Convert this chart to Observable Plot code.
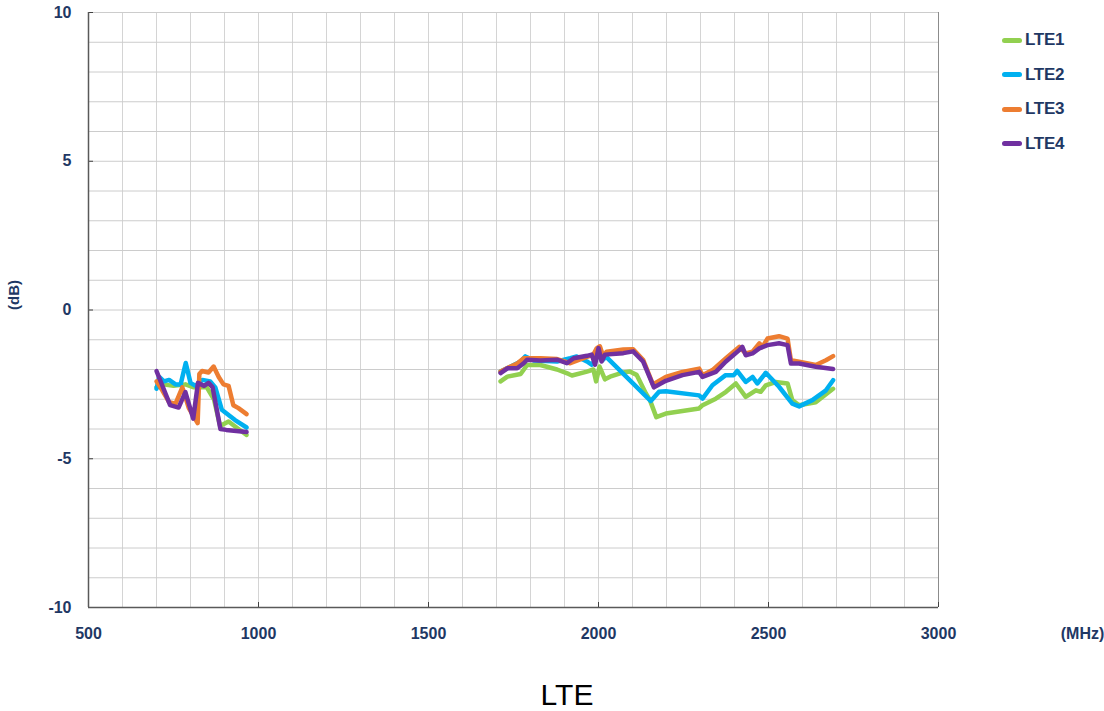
<!DOCTYPE html>
<html>
<head>
<meta charset="utf-8">
<script src="https://cdn.jsdelivr.net/npm/d3@7"></script>
<script src="https://cdn.jsdelivr.net/npm/@observablehq/plot@0.6"></script>
<style>
  html, body { margin: 0; padding: 0; background: #fff; }
  #wrap { position: relative; width: 1104px; height: 711px; font-family: "Liberation Sans", Arial, sans-serif; }
  #title { position: absolute; left: 0; width: 1134px; top: 678px; text-align: center; font-size: 30px; color: #000; }
  #legend { position: absolute; left: 1002px; top: 23px; }
  .item { display: flex; align-items: center; height: 34.5px; margin-top: 0; }
  .sw { width: 20px; height: 5px; border-radius: 3px; margin-right: 3px; }
  .lab { font-size: 17px; font-weight: bold; color: #1f3864; letter-spacing: -0.3px; }
</style>
</head>
<body>
<div id="wrap">
  <div id="chart"></div>
  <div id="legend"></div>
  <div id="title">LTE</div>
</div>
<script>
// ---- Data ----
const seriesNames = ["LTE1", "LTE2", "LTE3", "LTE4"];
const seriesColors = ["#92d050", "#00b0f0", "#ed7d31", "#7030a0"];
const xTicks = [500, 1000, 1500, 2000, 2500, 3000];
const yTicks = [-10, -5, 0, 5, 10];

// Low band (MHz, dB)
const lte1LowMHz = [700, 720, 750, 785, 810, 848, 869, 887, 912, 941, 965];
const lte1LowDb  = [-2.6, -2.5, -2.55, -2.5, -2.6, -2.6, -3.0, -3.9, -3.75, -4.0, -4.2];
const lte2LowMHz = [700, 708, 722, 737, 756, 771, 786, 800, 815, 835, 858, 873, 892, 931, 965];
const lte2LowDb  = [-2.65, -2.25, -2.4, -2.35, -2.5, -2.5, -1.78, -2.45, -2.55, -2.35, -2.4, -2.6, -3.35, -3.7, -3.95];
const lte3LowMHz = [700, 717, 737, 756, 776, 795, 821, 826, 834, 853, 868, 883, 897, 912, 926, 941, 965];
const lte3LowDb  = [-2.4, -2.7, -3.1, -3.15, -2.6, -3.3, -3.8, -2.15, -2.05, -2.1, -1.9, -2.25, -2.5, -2.55, -3.2, -3.3, -3.5];
const lte4LowMHz = [700, 740, 765, 785, 808, 822, 840, 853, 865, 888, 905, 965];
const lte4LowDb  = [-2.05, -3.2, -3.28, -2.76, -3.65, -2.45, -2.55, -2.45, -2.6, -4.0, -4.03, -4.1];

// High band (MHz, dB)
const lte1HighMHz = [1712, 1732, 1771, 1790, 1829, 1878, 1912, 1922, 1966, 1985, 1993, 2003, 2019, 2034, 2073, 2092, 2112, 2139, 2151, 2170, 2198, 2296, 2306, 2345, 2375, 2404, 2433, 2463, 2477, 2492, 2521, 2556, 2570, 2590, 2639, 2690];
const lte1HighDb  = [-2.4, -2.24, -2.15, -1.85, -1.85, -2.0, -2.15, -2.2, -2.07, -2.0, -2.4, -1.9, -2.33, -2.24, -2.1, -2.07, -2.18, -2.8, -3.02, -3.6, -3.48, -3.31, -3.2, -2.98, -2.75, -2.47, -2.92, -2.7, -2.75, -2.53, -2.42, -2.47, -3.03, -3.2, -3.1, -2.65];
const lte2HighMHz = [1712, 1742, 1771, 1785, 1810, 1878, 1917, 1936, 1966, 1980, 1995, 2005, 2012, 2022, 2154, 2178, 2198, 2296, 2306, 2335, 2374, 2398, 2408, 2433, 2453, 2467, 2492, 2531, 2570, 2590, 2629, 2669, 2690];
const lte2HighDb  = [-2.07, -1.9, -1.73, -1.56, -1.7, -1.73, -1.62, -1.56, -1.73, -1.84, -1.6, -1.45, -1.69, -1.57, -3.06, -2.75, -2.73, -2.87, -2.98, -2.53, -2.19, -2.19, -2.05, -2.42, -2.25, -2.47, -2.11, -2.58, -3.15, -3.24, -3.03, -2.7, -2.36];
const lte3HighMHz = [1712, 1732, 1761, 1780, 1829, 1878, 1917, 1956, 1985, 1995, 2004, 2014, 2024, 2073, 2102, 2131, 2160, 2198, 2247, 2296, 2306, 2335, 2374, 2414, 2433, 2453, 2473, 2482, 2497, 2531, 2556, 2566, 2590, 2639, 2669, 2690];
const lte3HighDb  = [-2.07, -1.95, -1.8, -1.62, -1.62, -1.65, -1.79, -1.62, -1.5, -1.28, -1.22, -1.56, -1.4, -1.33, -1.32, -1.67, -2.5, -2.25, -2.08, -1.97, -2.19, -2.02, -1.63, -1.24, -1.46, -1.4, -1.12, -1.24, -0.96, -0.88, -0.96, -1.69, -1.74, -1.85, -1.69, -1.55];
const lte4HighMHz = [1712, 1732, 1761, 1780, 1790, 1829, 1878, 1907, 1927, 1966, 1980, 1990, 2000, 2009, 2019, 2073, 2102, 2131, 2163, 2198, 2247, 2296, 2306, 2345, 2374, 2414, 2423, 2433, 2453, 2473, 2497, 2531, 2556, 2566, 2590, 2639, 2690];
const lte4HighDb  = [-2.12, -1.96, -1.96, -1.79, -1.67, -1.7, -1.67, -1.79, -1.62, -1.54, -1.5, -1.84, -1.28, -1.73, -1.5, -1.45, -1.39, -1.73, -2.6, -2.38, -2.19, -2.08, -2.25, -2.08, -1.74, -1.35, -1.24, -1.52, -1.46, -1.29, -1.18, -1.12, -1.18, -1.8, -1.8, -1.91, -1.98];

// ---- Build table ----
const segments = [
  ["LTE1", "low", lte1LowMHz, lte1LowDb], ["LTE1", "high", lte1HighMHz, lte1HighDb],
  ["LTE2", "low", lte2LowMHz, lte2LowDb], ["LTE2", "high", lte2HighMHz, lte2HighDb],
  ["LTE3", "low", lte3LowMHz, lte3LowDb], ["LTE3", "high", lte3HighMHz, lte3HighDb],
  ["LTE4", "low", lte4LowMHz, lte4LowDb], ["LTE4", "high", lte4HighMHz, lte4HighDb]
];
const rows = [];
for (const [s, band, xs, ys] of segments) {
  xs.forEach((x, i) => rows.push({series: s, seg: s + "-" + band, mhz: x, db: ys[i]}));
}

const textColor = "#1f3864";
const xGrid = d3.range(500, 3001, 100);
const yGrid = d3.range(-10, 10.001, 1);

const chart = Plot.plot({
  width: 1104,
  height: 660,
  marginLeft: 88,
  marginRight: 166,
  marginTop: 12,
  marginBottom: 53,
  style: {fontFamily: "'Liberation Sans', Arial, sans-serif", background: "#fff"},
  x: {domain: [500, 3000], label: null},
  y: {domain: [-10, 10], label: null},
  color: {domain: seriesNames, range: seriesColors},
  marks: [
    Plot.ruleX(xGrid, {stroke: "#d4d4d4", strokeWidth: 1}),
    Plot.ruleY(yGrid, {stroke: "#cccccc", strokeWidth: 1}),
    Plot.ruleX([3000], {stroke: "#8c8c8c", strokeWidth: 1}),
    Plot.axisX({ticks: xTicks, tickSize: -5, tickPadding: 25, stroke: "#404040", fill: textColor, fontSize: 16, fontWeight: "bold", label: null, tickFormat: d => String(d)}),
    Plot.axisY({ticks: yTicks, tickSize: -5, tickPadding: 22, stroke: "#404040", fill: textColor, fontSize: 16, fontWeight: "bold", label: null, tickFormat: d => String(d)}),
    Plot.ruleX([500], {stroke: "#595959", strokeWidth: 1.5}),
    Plot.ruleY([-10], {stroke: "#595959", strokeWidth: 1.5}),
    Plot.line(rows, {x: "mhz", y: "db", z: "seg", stroke: "series", strokeWidth: 4.5, strokeLinejoin: "round", strokeLinecap: "round", curve: "linear"}),
    Plot.text(["(dB)"], {frameAnchor: "left", dx: -74, rotate: -90, fill: textColor, fontSize: 15, fontWeight: "bold"}),
    Plot.text(["(MHz)"], {frameAnchor: "bottom-right", dx: 144, dy: 26, textAnchor: "middle", lineAnchor: "middle", fill: textColor, fontSize: 16, fontWeight: "bold"})
  ]
});
document.getElementById("chart").appendChild(chart);

// ---- Legend ----
const legend = document.getElementById("legend");
seriesNames.forEach((name, i) => {
  const item = document.createElement("div");
  item.className = "item";
  const sw = document.createElement("div");
  sw.className = "sw";
  sw.style.background = seriesColors[i];
  const lab = document.createElement("span");
  lab.className = "lab";
  lab.textContent = name;
  item.appendChild(sw);
  item.appendChild(lab);
  legend.appendChild(item);
});
</script>
</body>
</html>
